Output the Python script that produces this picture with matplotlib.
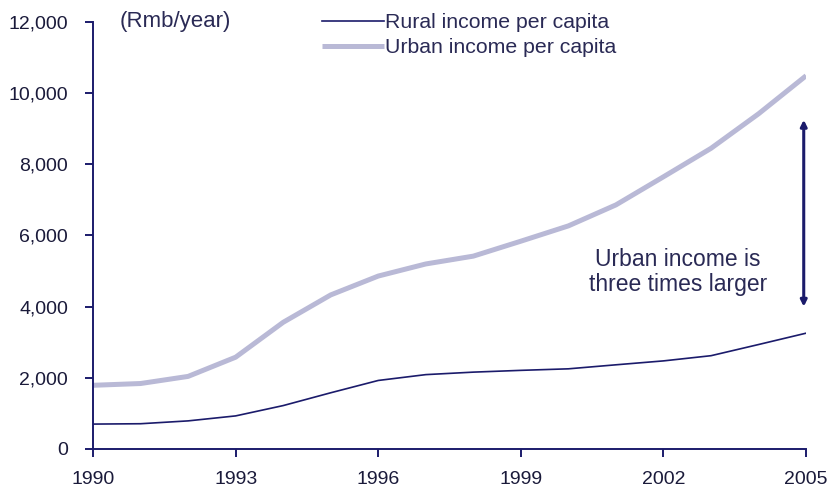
import matplotlib.pyplot as plt

years = list(range(1990, 2006))
rural = [700, 710, 790, 930, 1220, 1580, 1926, 2090, 2160, 2210, 2253, 2366, 2476, 2622, 2936, 3255]
urban = [1790, 1840, 2040, 2580, 3560, 4330, 4860, 5200, 5420, 5840, 6270, 6860, 7650, 8450, 9420, 10490]
xticks = [1990, 1993, 1996, 1999, 2002, 2005]
yticks = [0, 2000, 4000, 6000, 8000, 10000, 12000]

navy = '#1b1b6b'
lav = '#b9b9d6'
txt = '#2a2a55'

plt.rcParams['font.family'] = ['Liberation Sans', 'DejaVu Sans']

fig = plt.figure(figsize=(8.35, 4.94), dpi=100)
ax = fig.add_axes([0.1114, 0.0911, 0.854, 0.8644])

ax.plot(years, rural, color=navy, lw=1.2, label='Rural income per capita')
ax.plot(years, urban, color=lav, lw=3.6, label='Urban income per capita', solid_capstyle='butt')

ax.set_xlim(1990, 2005)
ax.set_ylim(0, 12000)
ax.set_xticks(xticks)
ax.set_yticks(yticks)
ax.set_yticklabels([f'{v:,}' for v in yticks])

for s in ['top', 'right']:
    ax.spines[s].set_visible(False)
for s in ['left', 'bottom']:
    ax.spines[s].set_color(navy)
    ax.spines[s].set_linewidth(1.4)
ax.tick_params(colors=navy, width=1.4, length=6, labelsize=14, labelcolor='#1a1a3a')
ax.tick_params(axis='x', pad=10)
ax.tick_params(axis='y', pad=12)

ax.text(0.038, 1.0, '(Rmb/year)', transform=ax.transAxes, fontsize=16,
        color=txt, va='center', ha='left')

ax.annotate('', xy=(2004.95, 4000), xytext=(2004.95, 9250),
            arrowprops=dict(arrowstyle='<|-|>', color=navy, lw=2.2,
                            mutation_scale=9, shrinkA=0, shrinkB=0))
ax.text(2002.31, 4985, 'Urban income is\nthree times larger', fontsize=16.5,
        color=txt, ha='center', va='center', linespacing=1.1)

fig.legend(loc='upper left', bbox_to_anchor=(0.373, 0.995), frameon=False,
           fontsize=15.3, handlelength=2.9, handletextpad=0.05,
           labelspacing=0.3, borderpad=0, labelcolor=txt)

fig.savefig('out.png', dpi=100)
